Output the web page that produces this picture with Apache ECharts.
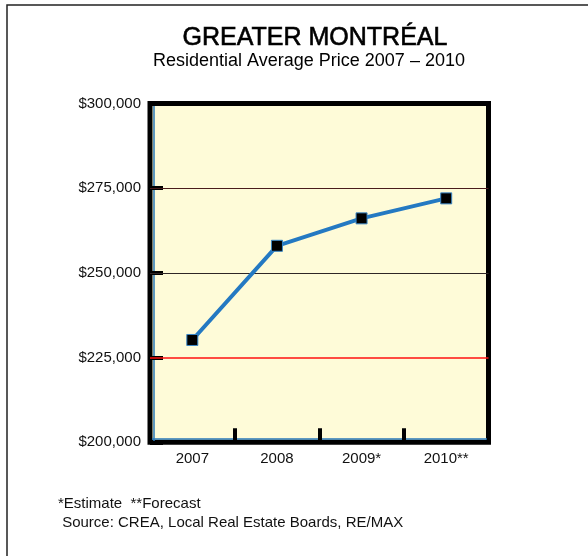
<!DOCTYPE html>
<html style="height: 100%">
<head>
    <meta charset="utf-8">
    <title>Greater Montreal</title>
    <script src="https://cdn.jsdelivr.net/npm/echarts@6/dist/echarts.min.js"></script>
</head>
<body style="height: 100%; margin: 0; background: #fff">
<div id="main" style="width: 588px; height: 556px"></div>

<script type="text/javascript">
    // data
    var years = ['2007', '2008', '2009*', '2010**'];
    var avgPrice = [230200, 258000, 266100, 272000];
    var yMin = 200000, yMax = 300000, yStep = 25000;
    // horizontal rules inside the plot, their colours and widths
    var ruleValues = [225000, 250000, 275000];
    var ruleColors = ['#ff1010', '#2e2626', '#4a1c1c'];
    var ruleWidths = [1.6, 1, 1];

    var font = "'Liberation Sans', Arial, Helvetica, sans-serif";

    function money(v) {
        return '$' + v.toString().replace(/\B(?=(\d{3})+(?!\d))/g, ',');
    }

    var rules = [];
    for (var i = 0; i < ruleValues.length; i++) {
        rules.push({
            yAxis: ruleValues[i],
            lineStyle: {color: ruleColors[i], width: ruleWidths[i], type: 'solid'}
        });
    }

    var myChart = echarts.init(document.getElementById('main'));

    var option = {
        backgroundColor: '#fff',
        animation: false,
        title: [
            {
                text: 'GREATER MONTRÉAL',
                left: 310, top: 21, textAlign: 'center',
                textStyle: {
                    fontFamily: font, fontSize: 25, fontWeight: 'normal', color: '#000',
                    textBorderColor: '#000', textBorderWidth: 0.6
                }
            },
            {
                text: 'Residential Average Price 2007 – 2010',
                left: 304, top: 47, textAlign: 'center',
                textStyle: {fontFamily: font, fontSize: 18, fontWeight: 'normal', color: '#000'}
            }
        ],
        graphic: [
            {
                type: 'rect', shape: {x: 7, y: 5, width: 600, height: 600},
                style: {fill: 'none', stroke: '#222', lineWidth: 1.5}, silent: true
            },
            {
                type: 'text', left: 58, top: 496,
                style: {text: '*Estimate  **Forecast', font: '15px ' + font, fill: '#111'}
            },
            {
                type: 'text', left: 58, top: 515,
                style: {text: ' Source: CREA, Local Real Estate Boards, RE/MAX', font: '15px ' + font, fill: '#111'}
            }
        ],
        grid: {
            left: 150, right: 99.5, top: 103.5, bottom: 113.7,
            show: true, backgroundColor: '#fefbd8',
            borderColor: '#000', borderWidth: 5
        },
        xAxis: [
            {
                type: 'category',
                data: years,
                boundaryGap: true,
                axisLine: {show: false},
                axisTick: {show: true, inside: true, length: 14, lineStyle: {color: '#000', width: 4}},
                axisLabel: {margin: 9, fontFamily: font, fontSize: 15, color: '#111'}
            },
            {
                type: 'category', data: years, position: 'bottom', offset: -3.5,
                axisLine: {show: true, lineStyle: {color: '#2a78b8', width: 1.5}},
                axisTick: {show: false}, axisLabel: {show: false}, splitLine: {show: false}
            }
        ],
        yAxis: [
            {
                type: 'value',
                min: yMin, max: yMax, interval: yStep,
                axisLine: {show: false},
                axisTick: {show: true, inside: true, length: 13, lineStyle: {color: '#000', width: 4}},
                axisLabel: {margin: 9, fontFamily: font, fontSize: 15, color: '#111', formatter: money},
                splitLine: {show: false}
            },
            {
                type: 'value', min: yMin, max: yMax, position: 'left', offset: -3.5,
                axisLine: {show: true, lineStyle: {color: '#2a78b8', width: 1.5}},
                axisTick: {show: false}, axisLabel: {show: false}, splitLine: {show: false}
            }
        ],
        series: [
            {
                name: 'rules',
                type: 'line',
                data: [],
                z: 1,
                markLine: {
                    silent: true,
                    symbol: ['none', 'none'],
                    label: {show: false},
                    data: rules
                }
            },
            {
                name: 'Average price',
                type: 'line',
                data: avgPrice,
                symbol: 'rect',
                symbolSize: 11,
                lineStyle: {color: '#2479c2', width: 4},
                itemStyle: {color: '#000', borderColor: '#3a86c6', borderWidth: 1},
                z: 5
            }
        ]
    };
    myChart.setOption(option, true);
</script>
</body>
</html>
